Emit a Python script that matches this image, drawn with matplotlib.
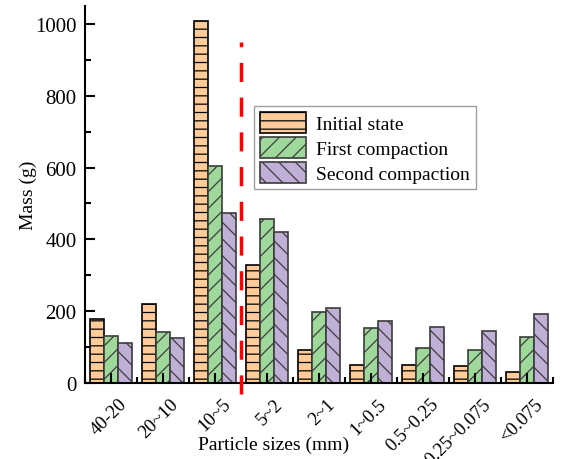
import numpy as np
import matplotlib.pyplot as plt
from matplotlib.transforms import ScaledTranslation

plt.rcParams['font.family'] = ['Liberation Serif', 'DejaVu Serif']
plt.rcParams['hatch.linewidth'] = 0.9

sizes = ['40-20', '20~10', '10~5', '5~2', '2~1', '1~0.5', '0.5~0.25', '0.25~0.075', '<0.075']
initial = [178, 220, 1008, 330, 92, 50, 50, 47, 31]
first = [131, 142, 604, 457, 198, 153, 98, 92, 128]
second = [111, 125, 473, 421, 209, 173, 156, 145, 192]

# name, values, face colour, hatch, hatch/edge colour
series = [
    ('Initial state', initial, '#FFCC99', '--', '#000000'),
    ('First compaction', first, '#9FD89B', '//', '#3c3c3c'),
    ('Second compaction', second, '#C0B0D8', '\\\\', '#3c3c3c'),
]

fig = plt.figure(figsize=(5.61, 4.6), dpi=100)
ax = fig.add_axes([0.1515, 0.165, 0.834, 0.82])

x = np.arange(1, len(sizes) + 1)
w = 0.27
for i, (name, vals, col, hatch, hcol) in enumerate(series):
    plt.rcParams['hatch.color'] = hcol
    ax.bar(x + (i - 1) * w, vals, w, color=col, edgecolor=hcol, hatch=hatch,
           linewidth=1.2, label=name)

# boundary between coarse and fine particles
ax.axvline(3.5, ymin=-0.03, ymax=0.905, color='red', lw=2.5, ls=(0, (5.5, 4.5)),
           clip_on=False, zorder=5)

ax.set_xlim(0.5, len(sizes) + 0.5)
ax.set_ylim(0, 1050)
ax.set_xticks(x)
ax.set_xticks(np.arange(0.5, len(sizes) + 1), minor=True)
ax.set_xticklabels(sizes, rotation=45, ha='right', va='top', rotation_mode='anchor', fontsize=13.5)
ax.set_yticks(np.arange(0, 1001, 200))
ax.set_yticks(np.arange(100, 1001, 200), minor=True)
ax.tick_params(direction='in', which='major', length=7, width=1.5)
ax.tick_params(direction='in', which='minor', length=4, width=1.5)
ax.tick_params(axis='y', labelsize=15, pad=6)
ax.tick_params(axis='x', pad=0)
off = ScaledTranslation(0.07, -0.12, fig.dpi_scale_trans)
for lab in ax.get_xticklabels():
    lab.set_transform(lab.get_transform() + off)
for s in ['top', 'right']:
    ax.spines[s].set_visible(False)
for s in ['left', 'bottom']:
    ax.spines[s].set_linewidth(1.5)

ax.set_xlabel('Particle sizes (mm)', fontsize=14)
ax.xaxis.set_label_coords(0.403, -0.14)
ax.set_ylabel('Mass (g)', fontsize=14)
ax.yaxis.set_label_coords(-0.103, 0.5)

ax.legend(loc='upper left', bbox_to_anchor=(0.361, 0.735), fontsize=14,
          fancybox=False, edgecolor='#888888', handlelength=2.4, handleheight=1.3,
          borderpad=0.3, labelspacing=0.2, handletextpad=0.5, borderaxespad=0)

fig.savefig('out.png', dpi=100)
